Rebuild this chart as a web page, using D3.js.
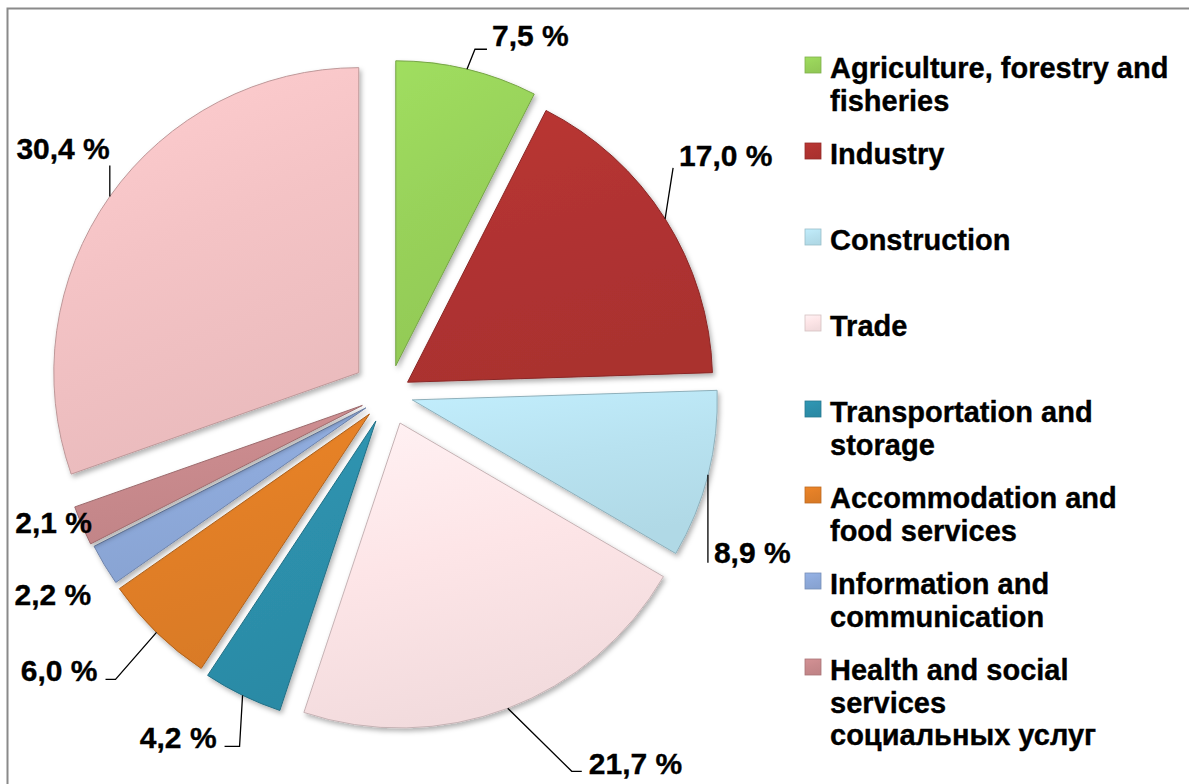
<!DOCTYPE html>
<html lang="en">
<head>
<meta charset="UTF-8">
<title>Structure by activity</title>
<script src="https://cdn.jsdelivr.net/npm/d3@7"></script>
<style>
    body { margin: 0; background: #fff; }
    text { font-family: "Liberation Sans", Arial, sans-serif; font-weight: bold; fill: #000; stroke: #000; stroke-width: 0.35px; }
    .label { font-size: 30px; }
    .legend text { font-size: 29px; }
    .leader { fill: none; stroke: #000; stroke-width: 1.3px; }
</style>
</head>
<body>
<script>
    // data
    var categories = ["Agriculture, forestry and fisheries", "Industry", "Construction", "Trade",
        "Transportation and storage", "Accommodation and food services", "Information and communication",
        "Health and social services", "Other"];
    var values = [7.5, 17.0, 8.9, 21.7, 4.2, 6.0, 2.2, 2.1, 30.4];
    var valueLabels = ["7,5 %", "17,0 %", "8,9 %", "21,7 %", "4,2 %", "6,0 %", "2,2 %", "2,1 %", "30,4 %"];
    var legendLines = [
        ["Agriculture, forestry and", "fisheries"],
        ["Industry"],
        ["Construction"],
        ["Trade"],
        ["Transportation and", "storage"],
        ["Accommodation and", "food services"],
        ["Information and", "communication"],
        ["Health and social", "services", "социальных услуг"]
    ];
    var colors = ["#98d25a", "#b13331", "#b8e2f0", "#fde5e7", "#2d90ac", "#e27f27", "#8eaadb", "#c98a8d", "#f4c3c5"];

    // layout
    var width = 1189, height = 784;
    var cx = 389, cy = 394, radius = 305;
    var explode = [29, 22, 24, 31, 30, 28, 27, 29, 37];
    // label layout: leader points and text point, relative to the slice's outer mid-arc point
    var labelLayout = [
        {pts: [[8, -20], [20, -20]], tx: 25, ty: -23, anchor: "start"},
        {pts: [[8, -51]], tx: 14, ty: -53, anchor: "start"},
        {pts: [[0, 88]], tx: 6, ty: 88, anchor: "start"},
        {pts: [[64, 63], [74, 63]], tx: 81, ty: 66, anchor: "start"},
        {pts: [[-3, 51], [-18, 51]], tx: -26, ty: 53, anchor: "end"},
        {pts: [[-41, 47], [-51, 47]], tx: -59, ty: 49, anchor: "end"},
        {pts: [], tx: -13, ty: 40, anchor: "end"},
        {pts: [], tx: 10, ty: 7, anchor: "end"},
        {pts: [[0, -31]], tx: 0, ty: -37, anchor: "end"}
    ];

    var svg = d3.select("body").append("svg")
        .attr("width", width)
        .attr("height", height);

    // frame
    svg.append("rect")
        .attr("x", 7.5).attr("y", 8.5)
        .attr("width", width + 20).attr("height", height + 20)
        .attr("fill", "none")
        .attr("stroke", "#8a8a8a")
        .attr("stroke-width", 2);

    var defs = svg.append("defs");
    var shadow = defs.append("filter").attr("id", "shadow")
        .attr("x", "-10%").attr("y", "-10%").attr("width", "130%").attr("height", "130%");
    shadow.append("feDropShadow")
        .attr("dx", 2).attr("dy", 3).attr("stdDeviation", 2.5)
        .attr("flood-color", "#000").attr("flood-opacity", 0.3);

    colors.forEach(function(c, i){
        var g = defs.append("linearGradient").attr("id", "grad" + i)
            .attr("x1", 0).attr("y1", 0).attr("x2", 0.3).attr("y2", 1);
        g.append("stop").attr("offset", "0%").attr("stop-color", d3.color(c).brighter(0.15));
        g.append("stop").attr("offset", "50%").attr("stop-color", c);
        g.append("stop").attr("offset", "100%").attr("stop-color", d3.color(c).darker(0.12));
    });

    var pie = d3.pie().sort(null).value(function(d){ return d; });
    var arcs = pie(values);

    var arc = d3.arc().innerRadius(0).outerRadius(radius);

    function midDir(d){
        var a = (d.startAngle + d.endAngle) / 2;
        return [Math.sin(a), -Math.cos(a)];
    }

    var chart = svg.append("g").attr("transform", "translate(" + cx + "," + cy + ")");

    var slices = chart.selectAll(".slice")
        .data(arcs)
        .enter()
        .append("g")
        .attr("class", "slice")
        .attr("transform", function(d, i){
            var m = midDir(d);
            return "translate(" + (m[0] * explode[i]) + "," + (m[1] * explode[i]) + ")";
        });

    slices.append("path")
        .attr("d", arc)
        .attr("fill", function(d, i){ return "url(#grad" + i + ")"; })
        .attr("stroke", function(d, i){ return d3.color(colors[i]).darker(0.7); })
        .attr("stroke-width", 1)
        .attr("stroke-linejoin", "round")
        .attr("filter", "url(#shadow)");

    // data labels with leader lines
    arcs.forEach(function(d, i){
        var m = midDir(d);
        var ax = cx + m[0] * (explode[i] + radius);
        var ay = cy + m[1] * (explode[i] + radius);
        var L = labelLayout[i];
        if (L.pts.length) {
            var pts = [[ax, ay]].concat(L.pts.map(function(p){ return [ax + p[0], ay + p[1]]; }));
            svg.append("path")
                .attr("class", "leader")
                .attr("d", d3.line()(pts));
        }
        svg.append("text")
            .attr("class", "label")
            .attr("x", ax + L.tx)
            .attr("y", ay + L.ty)
            .attr("text-anchor", L.anchor)
            .text(valueLabels[i]);
    });

    // legend
    var legendX = 805, legendTop = 78, rowStep = 86, lineStep = 32.5;
    var legend = svg.append("g").attr("class", "legend");
    legendLines.forEach(function(lines, i){
        var y = legendTop + i * rowStep;
        legend.append("rect")
            .attr("x", legendX).attr("y", y - 21)
            .attr("width", 16).attr("height", 16)
            .attr("fill", "url(#grad" + i + ")")
            .attr("stroke", d3.color(colors[i]).darker(0.5))
            .attr("stroke-width", 0.8);
        var t = legend.append("text").attr("x", legendX + 25).attr("y", y);
        lines.forEach(function(s, k){
            t.append("tspan").attr("x", legendX + 25).attr("y", y + k * lineStep).text(s);
        });
    });
</script>
</body>
</html>
